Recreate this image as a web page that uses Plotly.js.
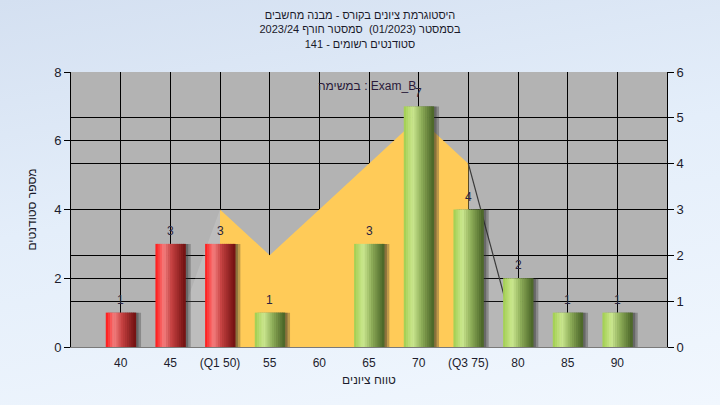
<!DOCTYPE html>
<html>
<head>
<meta charset="utf-8">
<script src="https://cdn.plot.ly/plotly-3.0.1.min.js"></script>
<style>
  html, body { margin:0; padding:0; width:720px; height:405px; overflow:hidden;
    background: linear-gradient(170deg, #d4e0f1 0%, #e4eefa 45%, #f1f7fe 100%); }
  #chart { width:720px; height:405px; }
</style>
</head>
<body>
<div id="chart"></div>
<script>
// ---- data ----
const scores = [40, 45, 50, 55, 60, 65, 70, 75, 80, 85, 90];
const tickLabels = ["40", "45", "(Q1 50)", "55", "60", "65", "70", "(Q3 75)", "80", "85", "90"];
const counts = [1, 3, 3, 1, 0, 3, 7, 4, 2, 1, 1];
const curveX = [45, 50, 55, 60, 65, 70, 75, 80];
const curveY = [0, 3, 2, 3, 4, 5, 4, 0];
const q1 = 50, q3 = 75;
const titleLines = [
  "היסטוגרמת ציונים בקורס - מבנה מחשבים",
  "בסמסטר (01/2023)  סמסטר חורף 2023/24",
  "סטודנטים רשומים - 141"
];
const taskLabel = "במשימה : Exam_B";
const xTitle = "טווח ציונים";
const yTitle = "מספר סטודנטים";

// ---- style helpers ----
function lerp(stops, t) {
  for (let i = 0; i < stops.length - 1; i++) {
    const a = stops[i], b = stops[i + 1];
    if (t >= a[0] && t <= b[0]) {
      const f = (t - a[0]) / (b[0] - a[0]);
      const c = [1, 2, 3].map(k => Math.round(a[k] + (b[k] - a[k]) * f));
      return `rgb(${c[0]},${c[1]},${c[2]})`;
    }
  }
  const l = stops[stops.length - 1];
  return `rgb(${l[1]},${l[2]},${l[3]})`;
}
const redStops = [[0, 255, 20, 20], [0.28, 244, 128, 128], [0.55, 196, 64, 64], [1, 112, 16, 16]];
const greenStops = [[0, 160, 206, 78], [0.3, 204, 232, 144], [0.6, 140, 172, 88], [1, 72, 98, 38]];

const barW = 3;          // in x units (0.6 of a category step)
const N = 14;
const traces = [];

// yellow area between Q1 and Q3 (right axis)
const inner = curveX.map((x, i) => [x, curveY[i]]).filter(p => p[0] >= q1 && p[0] <= q3);
traces.push({
  type: 'scatter', x: inner.map(p => p[0]), y: inner.map(p => p[1]), yaxis: 'y',
  mode: 'lines', line: { width: 0 }, fill: 'tozeroy', fillcolor: '#ffcb58', hoverinfo: 'skip'
});
const leftPart = curveX.map((x, i) => [x, curveY[i]]).filter(p => p[0] <= q1);
const rightPart = curveX.map((x, i) => [x, curveY[i]]).filter(p => p[0] >= q3);
traces.push({
  type: 'scatter', x: leftPart.map(p => p[0]), y: leftPart.map(p => p[1]), yaxis: 'y',
  mode: 'lines', line: { width: 0 }, fill: 'tozeroy', fillcolor: 'rgba(255,255,255,0.14)', hoverinfo: 'skip'
});
traces.push({
  type: 'scatter', x: rightPart.map(p => p[0]), y: rightPart.map(p => p[1]), yaxis: 'y',
  mode: 'lines', line: { width: 1.2, color: '#3a3a3a' }, fill: 'tozeroy', fillcolor: 'rgba(255,255,255,0.06)', hoverinfo: 'skip'
});

// shadows
[[0.55, 'rgba(40,40,40,0.30)'], [0.3, 'rgba(40,40,40,0.35)']].forEach(s => {
  traces.push({
    type: 'bar', x: scores, y: counts, yaxis: 'y2', width: barW, offset: -barW / 2 + s[0],
    marker: { color: s[1], line: { width: 0 } }, hoverinfo: 'skip'
  });
});

// cylinder bars as gradient strips
for (let i = 0; i < N; i++) {
  const t = (i + 0.5) / N;
  const colors = scores.map(s => s <= q1 ? lerp(redStops, t) : lerp(greenStops, t));
  traces.push({
    type: 'bar', x: scores, y: counts, yaxis: 'y2',
    width: barW / N + 0.06, offset: -barW / 2 + i * barW / N,
    marker: { color: colors, line: { width: 0 } }, hoverinfo: 'skip'
  });
}

// value labels
const labelAnn = scores.map((s, i) => counts[i] > 0 ? {
  x: s, y: counts[i], xref: 'x', yref: 'y2', text: String(counts[i]), showarrow: false,
  yshift: 13, font: { family: 'Liberation Sans, Arial, sans-serif', size: 12, color: '#2a2440' }
} : null).filter(a => a);

const layout = {
  width: 720, height: 405,
  margin: { l: 71, r: 53, t: 72, b: 58 },
  paper_bgcolor: 'rgba(0,0,0,0)',
  plot_bgcolor: '#b3b3b3',
  barmode: 'overlay',
  showlegend: false,
  font: { family: 'Liberation Sans, Arial, sans-serif', color: '#1c1c2c' },
  title: {
    text: titleLines.map(t => '\u200F' + t + '\u200F').join('<br>'),
    x: 0.5, xanchor: 'center', y: 0.953, yanchor: 'top',
    font: { size: 11, color: '#1a1a2a', family: 'Liberation Sans, Arial, sans-serif' }
  },
  xaxis: {
    range: [35, 95], tickvals: scores, ticktext: tickLabels,
    showgrid: true, gridcolor: '#000', gridwidth: 1, zeroline: false,
    ticks: '', showline: true, linecolor: '#7a7a7a', linewidth: 1,
    ticklabelstandoff: 5,
    tickfont: { size: 12, color: '#1c1c2c' },
    title: { text: xTitle, standoff: 6, font: { size: 12, color: '#1c1c2c' } }
  },
  yaxis: {
    side: 'right', range: [0, 6], dtick: 1,
    showgrid: true, gridcolor: '#000', gridwidth: 1, zeroline: false,
    ticks: 'outside', ticklen: 6, tickcolor: '#000',
    showline: true, linecolor: '#000', linewidth: 1,
    tickfont: { size: 13, color: '#1c1c2c' }
  },
  yaxis2: {
    overlaying: 'y', side: 'left', range: [0, 8], dtick: 2,
    showgrid: true, gridcolor: '#000', gridwidth: 1, zeroline: false,
    ticks: 'outside', ticklen: 6, tickcolor: '#000',
    showline: true, linecolor: '#000', linewidth: 1,
    tickfont: { size: 13, color: '#1c1c2c' },
    title: { text: yTitle, standoff: 14, font: { size: 12, color: '#1c1c2c' } }
  },
  annotations: labelAnn.concat([{
    xref: 'paper', yref: 'paper', x: 0.497, y: 0.95, xanchor: 'center', yanchor: 'middle',
    text: taskLabel, showarrow: false,
    font: { size: 12, color: '#2a1a3a', family: 'Liberation Sans, Arial, sans-serif' }
  }])
};

Plotly.newPlot('chart', traces, layout, { displayModeBar: false, staticPlot: true });
</script>
</body>
</html>
